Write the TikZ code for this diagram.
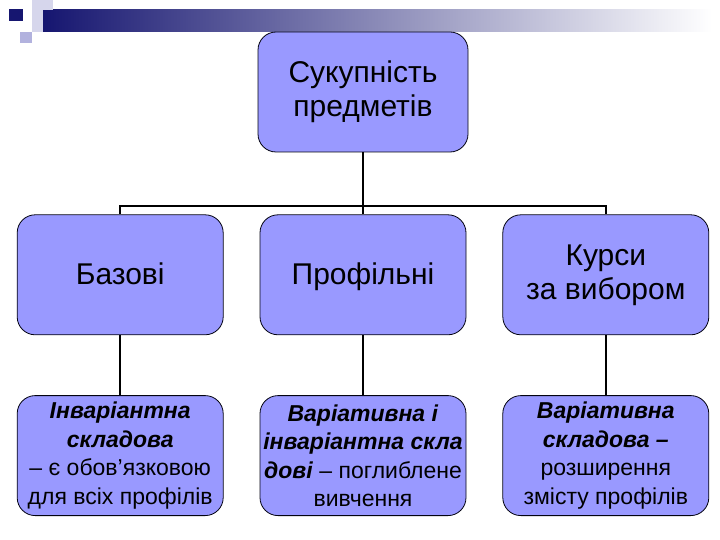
\documentclass[tikz,border=0pt]{standalone}
\usepackage{fontspec}
\setmainfont{Liberation Sans}
\usetikzlibrary{positioning}
\definecolor{periwinkle}{RGB}{153,153,255}
\definecolor{navy}{RGB}{22,22,112}
\definecolor{lilac}{RGB}{178,178,222}
\definecolor{paleLilac}{RGB}{214,214,236}
\tikzset{
  topic/.style={draw=black!85!navy, fill=periwinkle, rounded corners=18pt, align=center,
                minimum width=206pt, minimum height=120pt, inner sep=2pt, line width=.8pt,
                font=\fontsize{30}{34}\selectfont},
  oneline/.style={text height=22pt, text depth=2pt},
  detail/.style={topic, font=\fontsize{23}{28.5}\selectfont},
  link/.style={line width=2pt, draw=black}
}

\begin{document}
\begin{tikzpicture}[x=1pt, y=-1pt, node distance=60pt and 36pt]
  \useasboundingbox (0,0) rectangle (720,540);
  % slide header
  \shade[left color=navy, right color=white] (43,10) rectangle (712,32);
  \fill[paleLilac] (32,0) rectangle (53,10);
  \fill[paleLilac] (32,10) rectangle (43,32);
  \fill[lilac] (20,32) rectangle (32,43);
  \fill[navy] (9,9) rectangle (23,21);
  % tree
  \node[topic, minimum width=210pt] (set) at (363,92) {Сукупність\\ предметів};
  \node[topic, oneline, below=62pt of set] (profile) {Профільні};
  \node[topic, oneline, left=of profile] (basic) {Базові};
  \node[topic, right=of profile] (elective) {Курси\\ за вибором};
  \node[detail, below=of basic] (invariant)
    {\textbf{\textit{Інваріантна}}\\ \textbf{\textit{складова}}\\ – є обов’язковою\\ для всіх профілів};
  \node[detail, below=of profile] (mixed)
    {\textbf{\textit{Варіативна і}}\\ \textbf{\textit{інваріантна скла}}\\ \textbf{\textit{дові}} – поглиблене\\ вивчення};
  \node[detail, below=of elective] (variable)
    {\textbf{\textit{Варіативна}}\\ \textbf{\textit{складова –}}\\ розширення\\ змісту профілів};
  \coordinate (bus) at (363,206);
  \draw[link] (set.south) -- (profile.north);
  \draw[link] (basic.north) |- (bus) -| (elective.north);
  \draw[link] (basic.south) -- (invariant.north);
  \draw[link] (profile.south) -- (mixed.north);
  \draw[link] (elective.south) -- (variable.north);
\end{tikzpicture}
\end{document}
